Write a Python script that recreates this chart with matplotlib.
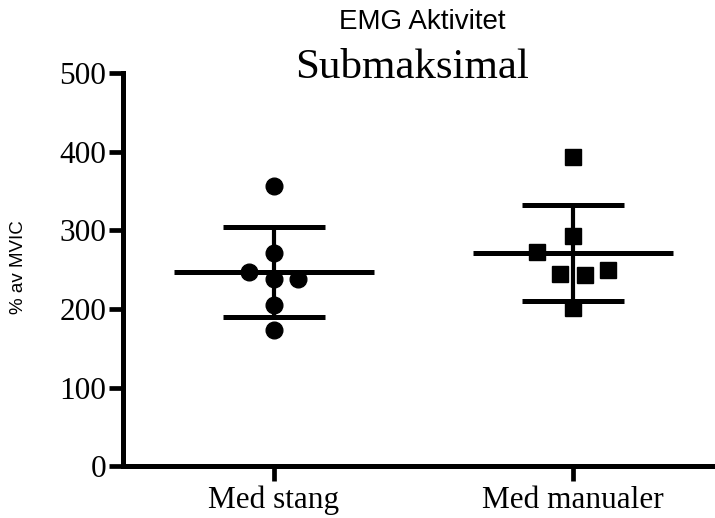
import matplotlib
matplotlib.use('Agg')
from matplotlib import pyplot as plt
import numpy as np

categories = ['Med stang', 'Med manualer']
stang = [356, 271, 246.5, 238, 238, 205, 173.5]
stang_jitter = [0, 0, -0.084, 0, 0.08, 0, 0]
manualer = [393, 293, 272, 244.5, 243, 249, 201]
manualer_jitter = [0, 0, -0.12, -0.043, 0.04, 0.117, 0]
y_ticks = [0, 100, 200, 300, 400, 500]

fig = plt.figure(figsize=(7.15, 5.18), dpi=100)
ax = fig.add_axes([0.172, 0.100, 0.828, 0.759])

groups = [(stang, stang_jitter, 'o'), (manualer, manualer_jitter, 's')]
for i, (vals, jit, mk) in enumerate(groups):
    vals = np.array(vals)
    xs = i + np.array(jit)
    mean = vals.mean()
    sd = vals.std(ddof=1)
    ax.plot(xs, vals, linestyle='none', marker=mk, markersize=12 if mk == 'o' else 11.5,
            color='black', zorder=3)
    ax.hlines(mean, i - 0.334, i + 0.334, color='black', lw=3.6, zorder=2)
    ax.errorbar(i, mean, yerr=sd, fmt='none', ecolor='black', elinewidth=3.0,
                capsize=37, capthick=3.6, zorder=2)

ax.set_xlim(-0.505, 1.475)
ax.set_ylim(0, 500)
ax.set_xticks(range(len(categories)))
ax.set_xticklabels(categories)
ax.set_yticks(y_ticks)

for s in ['top', 'right']:
    ax.spines[s].set_visible(False)
for s in ['left', 'bottom']:
    ax.spines[s].set_linewidth(3.6)
    ax.spines[s].set_capstyle('projecting')

ax.tick_params(axis='both', direction='out', width=3.4, length=10, pad=2,
               labelsize=22.5, labelfontfamily='Liberation Serif')
ax.tick_params(axis='x', length=11, pad=3)

fig.text(0.590, 0.958, 'EMG Aktivitet', ha='center', va='center',
         fontsize=20, family='Liberation Sans')
fig.text(0.576, 0.870, 'Submaksimal', ha='center', va='center',
         fontsize=31, family='Liberation Serif')
fig.text(0.026, 0.485, '% av MVIC', ha='center', va='center', rotation=90,
         fontsize=13.5, family='Liberation Sans')

fig.savefig('out.png', dpi=100)
